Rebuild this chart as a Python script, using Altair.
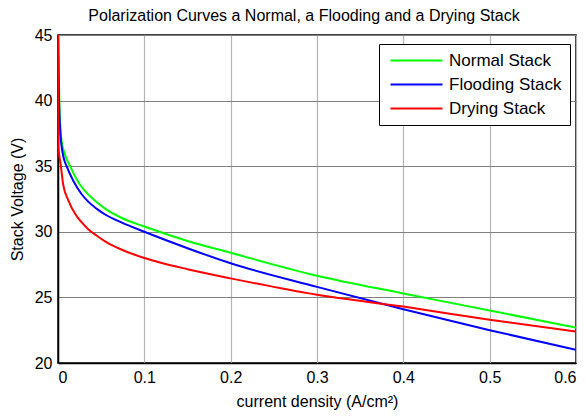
import altair as alt
import pandas as pd

# Normal stack
normal_x = [0, 0.001, 0.002, 0.004, 0.008, 0.014, 0.02, 0.027, 0.035, 0.045, 0.055, 0.074, 0.1, 0.15, 0.2, 0.3, 0.4, 0.5, 0.6]
normal_v = [45, 41.5, 39.0, 37.0, 35.9, 35.0, 34.2, 33.45, 32.85, 32.25, 31.75, 31.05, 30.4, 29.3, 28.4, 26.65, 25.3, 24.0, 22.7]
# Flooding stack
flood_x = [0, 0.001, 0.003, 0.006, 0.010, 0.018, 0.027, 0.035, 0.045, 0.055, 0.074, 0.1, 0.15, 0.2, 0.3, 0.4, 0.5, 0.6]
flood_v = [45, 40.5, 37.3, 35.8, 35.0, 33.85, 32.9, 32.3, 31.75, 31.3, 30.7, 30.0, 28.75, 27.6, 25.8, 24.1, 22.5, 21.0]
# Drying stack
dry_x = [0, 0.0005, 0.003, 0.006, 0.012, 0.02, 0.027, 0.035, 0.045, 0.055, 0.074, 0.1, 0.12, 0.15, 0.2, 0.3, 0.4, 0.5, 0.6]
dry_v = [45, 36.4, 35.2, 33.6, 32.4, 31.35, 30.75, 30.2, 29.7, 29.25, 28.63, 28.0, 27.62, 27.15, 26.45, 25.2, 24.3, 23.3, 22.4]

series_names = ["Normal Stack", "Flooding Stack", "Drying Stack"]
series_colors = ["#00FF00", "#0000FF", "#FF0000"]

rows = []
for name, xs, vs in zip(series_names, [normal_x, flood_x, dry_x], [normal_v, flood_v, dry_v]):
    for i, (a, b) in enumerate(zip(xs, vs)):
        rows.append({"series": name, "x": a, "v": b, "i": i})
df = pd.DataFrame(rows)

FONT = "Liberation Sans"

chart = alt.Chart(df).mark_line(strokeWidth=2, clip=True, interpolate="monotone").encode(
    x=alt.X("x:Q", scale=alt.Scale(domain=[0, 0.6], nice=False),
            axis=alt.Axis(title="current density (A/cm²)", values=[0, 0.1, 0.2, 0.3, 0.4, 0.5, 0.6],
                          format="~g", gridColor="#b4b4b4", gridWidth=1.2, gridOpacity=1,
                          domainColor="black", domainWidth=1.5, ticks=False, labelPadding=6,
                          titlePadding=8)),
    y=alt.Y("v:Q", scale=alt.Scale(domain=[20, 45], nice=False, zero=False),
            axis=alt.Axis(title="Stack Voltage (V)", values=[20, 25, 30, 35, 40, 45],
                          gridColor="#808080", gridWidth=1, gridOpacity=1,
                          domainColor="black", domainWidth=1.5, ticks=False, labelPadding=6,
                          titlePadding=9)),
    color=alt.Color("series:N", scale=alt.Scale(domain=series_names, range=series_colors),
                    legend=alt.Legend(title=None, orient="none", legendX=321, legendY=9,
                                      fillColor="white", strokeColor="black", padding=8,
                                      symbolType="stroke", symbolSize=2700, symbolStrokeWidth=2.2,
                                      clipHeight=17, symbolOffset=2,
                                      labelFontSize=17, labelFont=FONT, labelColor="black",
                                      rowPadding=6, labelOffset=5, labelLimit=220)),
    order="i:Q",
    detail="series:N",
).properties(
    width=518, height=328,
    background="white",
    title=alt.TitleParams("Polarization Curves a Normal, a Flooding and a Drying Stack",
                          font=FONT, fontSize=16, fontWeight="normal", color="black",
                          offset=3, dx=-13),
    autosize=alt.AutoSizeParams(type="none"),
    padding={"left": 58, "top": 35, "right": 11, "bottom": 53},
).configure_axis(
    labelFont=FONT, labelFontSize=16, labelColor="black",
    titleFont=FONT, titleFontSize=16, titleColor="black", titleFontWeight="normal",
).configure_view(stroke="black", strokeWidth=1.5)

chart.save("out.html", embed_options={"renderer": "svg", "actions": False})
